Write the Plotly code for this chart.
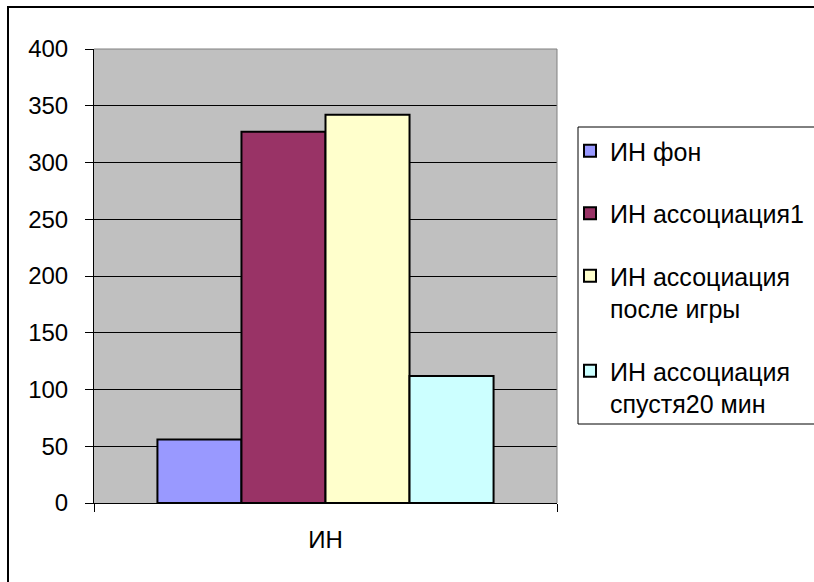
import plotly.graph_objects as go

# Data
category = ["ИН"]
series_names = [
    "ИН фон",
    "ИН ассоциация1",
    "ИН ассоциация<br>после игры",
    "ИН ассоциация<br>спустя20 мин",
]
series_values = [56, 327, 342, 112]
series_colors = ["#9999FF", "#993366", "#FFFFCC", "#CCFFFF"]
y_ticks = [0, 50, 100, 150, 200, 250, 300, 350, 400]

FONT = "Liberation Sans, Arial, sans-serif"

fig = go.Figure()
for i, (name, val, col) in enumerate(zip(series_names, series_values, series_colors)):
    fig.add_trace(go.Bar(
        x=category,
        y=[val],
        name=name,
        legendgroup=f"g{i}",
        marker=dict(color=col, line=dict(color="black", width=2)),
    ))

W, H = 814, 582
L, R, T, B = 94, 257, 49, 79
pw, ph = W - L - R, H - T - B


def px_x(x):
    return (x - L) / pw


def px_y(y):
    return (H - B - y) / ph


fig.update_layout(
    width=W,
    height=H,
    margin=dict(l=L, r=R, t=T, b=B, autoexpand=False),
    paper_bgcolor="white",
    plot_bgcolor="#C0C0C0",
    barmode="group",
    bargap=0.274,
    bargroupgap=0,
    font=dict(family=FONT, size=24, color="black"),
    showlegend=True,
    legend=dict(
        x=px_x(570),
        y=px_y(128),
        xanchor="left",
        yanchor="top",
        bgcolor="rgba(0,0,0,0)",
        borderwidth=0,
        tracegroupgap=27,
        valign="top",
        traceorder="grouped",
        font=dict(family=FONT, size=25, color="black"),
    ),
    xaxis=dict(
        showgrid=False,
        showline=True,
        linecolor="black",
        linewidth=1,
        ticks="outside",
        tickson="boundaries",
        ticklen=8,
        tickcolor="black",
        ticklabelstandoff=15,
        tickfont=dict(family=FONT, size=24),
    ),
    yaxis=dict(
        range=[0, 400],
        tickvals=y_ticks,
        showgrid=True,
        gridcolor="black",
        gridwidth=1,
        showline=True,
        linecolor="black",
        linewidth=1,
        ticks="outside",
        ticklen=8,
        tickcolor="black",
        ticklabelstandoff=12,
        tickfont=dict(family=FONT, size=24),
        zeroline=False,
    ),
    shapes=[
        # plot area frame (top and right in gray)
        dict(type="line", xref="paper", yref="paper", x0=0, x1=1, y0=1, y1=1,
             line=dict(color="#808080", width=1)),
        dict(type="line", xref="paper", yref="paper", x0=1, x1=1, y0=0, y1=1,
             line=dict(color="#808080", width=1)),
        # legend box
        dict(type="rect", xref="paper", yref="paper",
             x0=px_x(578), x1=px_x(830), y0=px_y(424), y1=px_y(127),
             line=dict(color="black", width=1), fillcolor="rgba(0,0,0,0)",
             layer="below"),
        # chart outer frame
        dict(type="rect", xref="paper", yref="paper",
             x0=px_x(8), x1=px_x(840), y0=px_y(600), y1=px_y(7),
             line=dict(color="black", width=2), fillcolor="rgba(0,0,0,0)",
             layer="below"),
    ],
)

fig.write_html("out.html")
